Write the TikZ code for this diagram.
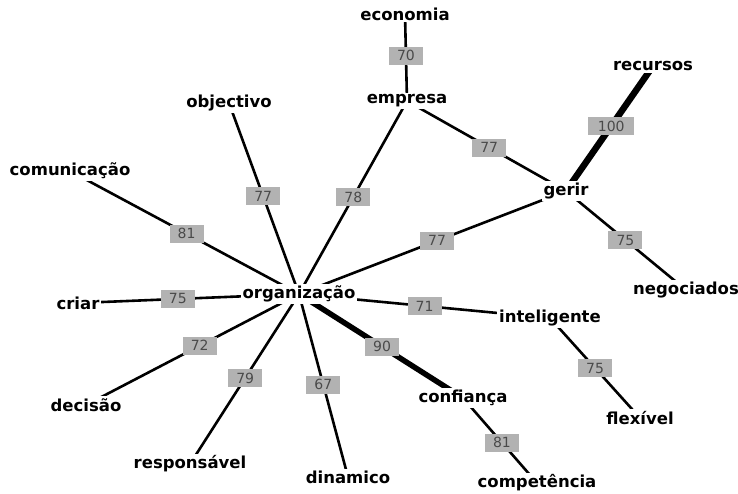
\documentclass[tikz,border=0pt]{standalone}
\usepackage{fontspec}
\setmainfont{DejaVu Sans}
\usetikzlibrary{backgrounds}
\definecolor{boxgray}{HTML}{B2B2B2}
\definecolor{numgray}{HTML}{4A4A4A}
\tikzset{
  word/.style={fill=white, inner sep=2pt, font=\bfseries\fontsize{16.5}{18}\selectfont, text=black},
  link/.style={line width=2.6pt, black},
  heavy/.style={line width=6.5pt, black},
  weight/.style={fill=boxgray, inner sep=0pt, minimum width=34pt, minimum height=18pt, font=\fontsize{14}{15}\selectfont, text=numgray},
  wweight/.style={weight, minimum width=46pt}
}
\begin{document}
\begin{tikzpicture}[x=1pt,y=-1pt]
\useasboundingbox (0,0) rectangle (738,493);
\node[word] (economia) at (405,14) {economia};
\node[word] (empresa) at (407,101) {empresa};
\node[word] (objectivo) at (229,103) {objectivo};
\node[word] (recursos) at (653,66) {recursos};
\node[word] (comunicacao) at (70,171) {comunicação};
\node[word] (gerir) at (566,191) {gerir};
\node[word] (negociados) at (686,290) {negociados};
\node[word] (criar) at (78,303) {criar};
\node[word] (org) at (299,294) {organização};
\node[word] (inteligente) at (550,318) {inteligente};
\node[word] (decisao) at (86,405) {decisão};
\node[word] (confianca) at (463,398) {confiança};
\node[word] (flexivel) at (640,418) {flexível};
\node[word] (responsavel) at (190,464) {responsável};
\node[word] (dinamico) at (348,477) {dinamico};
\node[word] (competencia) at (537,483) {competência};
\begin{pgfonlayer}{background}
\draw[link] (economia.center) -- node[weight,pos=0.48]{70} (empresa.center);
\draw[heavy] (recursos.center) -- node[wweight,pos=0.48]{100} (gerir.center);
\draw[link] (empresa.center) -- node[weight,pos=0.517]{77} (gerir.center);
\draw[link] (objectivo.center) -- node[weight,pos=0.489]{77} (org.center);
\draw[link] (empresa.center) -- node[weight,pos=0.497]{78} (org.center);
\draw[link] (comunicacao.center) -- node[weight,pos=0.509]{81} (org.center);
\draw[link] (gerir.center) -- node[weight,pos=0.483]{77} (org.center);
\draw[link] (gerir.center) -- node[weight,pos=0.495]{75} (negociados.center);
\draw[link] (criar.center) -- node[weight,pos=0.452]{75} (org.center);
\draw[link] (org.center) -- node[weight,pos=0.5]{71} (inteligente.center);
\draw[heavy,line width=5.5pt] (org.center) -- node[weight,pos=0.507]{90} (confianca.center);
\draw[link] (org.center) -- node[weight,pos=0.466]{72} (decisao.center);
\draw[link] (org.center) -- node[weight,pos=0.494]{79} (responsavel.center);
\draw[link] (org.center) -- node[weight,pos=0.496]{67} (dinamico.center);
\draw[link] (inteligente.center) -- node[weight,pos=0.5]{75} (flexivel.center);
\draw[link] (confianca.center) -- node[weight,pos=0.526]{81} (competencia.center);
\end{pgfonlayer}
\end{tikzpicture}
\end{document}
